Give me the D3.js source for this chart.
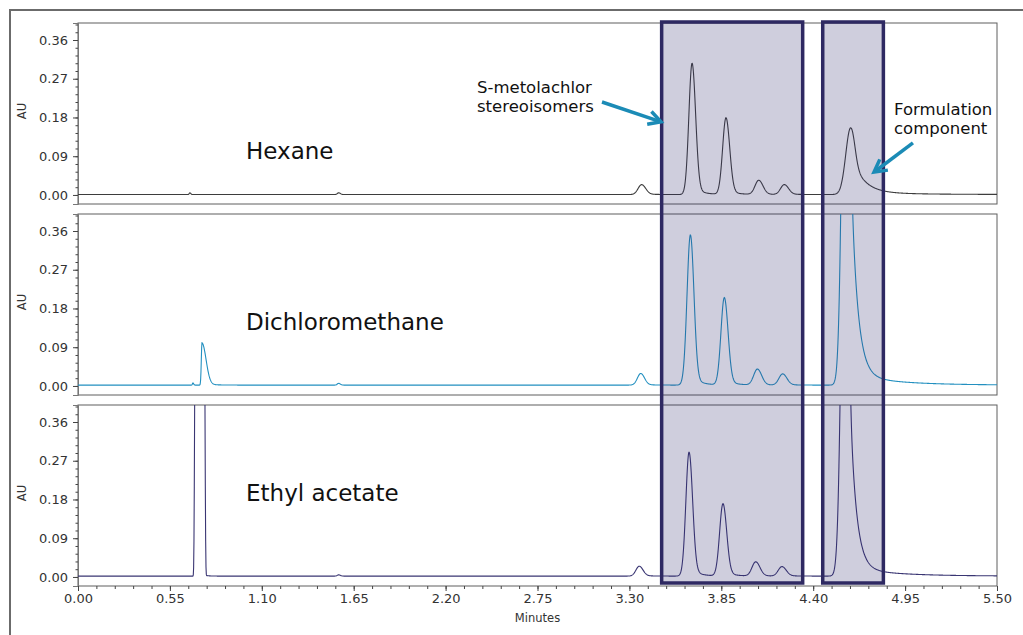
<!DOCTYPE html>
<html><head><meta charset="utf-8">
<script src="https://cdn.jsdelivr.net/npm/d3@7/dist/d3.min.js"></script>
<style>
body{margin:0;background:#fff}
svg{display:block;font-family:"DejaVu Sans",Verdana,sans-serif}
</style>
</head><body>
<svg id="chart" width="1023" height="635"></svg>
<script>
// ---------------- data ----------------
const solvents = ["Hexane", "Dichloromethane", "Ethyl acetate"];
const traceColors = ["#3d3d3d", "#2390c0", "#3a3673"];
const baselines = [0.001, 0.002, 0.002];
// peak table per solvent: [retention time (min), height (AU), sigma left, sigma right,
//                          tail amp 1, tail tau 1, tail amp 2, tail tau 2, shape exponent]
const hexanePeaks = [
  [0.670, 0.004, 0.004, 0.005],
  [1.560, 0.004, 0.008, 0.010],
  [3.373, 0.023, 0.021, 0.024, 0.002, 0.05],
  [3.675, 0.305, 0.019, 0.021, 0.020, 0.05],
  [3.878, 0.178, 0.020, 0.022, 0.012, 0.05],
  [4.074, 0.033, 0.022, 0.025, 0.002, 0.05],
  [4.227, 0.023, 0.022, 0.025, 0.002, 0.05],
  [4.624, 0.155, 0.029, 0.022, 0.090, 0.07, 0.006, 0.30]
];
const dichloromethanePeaks = [
  [0.688, 0.005, 0.003, 0.004],
  [0.742, 0.098, 0.004, 0.024, 0.004, 0.05],
  [1.560, 0.004, 0.008, 0.010],
  [3.368, 0.027, 0.020, 0.022, 0.002, 0.05],
  [3.665, 0.349, 0.020, 0.021, 0.024, 0.05],
  [3.868, 0.203, 0.020, 0.022, 0.014, 0.05],
  [4.066, 0.037, 0.022, 0.025, 0.002, 0.05],
  [4.217, 0.026, 0.022, 0.025, 0.002, 0.05],
  [4.601, 1.400, 0.023, 0.012, 0.950, 0.037, 0.028, 0.25]
];
const ethylAcetatePeaks = [
  [0.729, 1.000, 0.0286, 0.0286, 0.010, 0.02, 0, 1, 8],
  [1.560, 0.003, 0.008, 0.010],
  [3.359, 0.023, 0.020, 0.022, 0.002, 0.05],
  [3.657, 0.288, 0.019, 0.021, 0.020, 0.05],
  [3.860, 0.168, 0.020, 0.022, 0.012, 0.05],
  [4.056, 0.033, 0.022, 0.025, 0.002, 0.05],
  [4.213, 0.022, 0.022, 0.025, 0.002, 0.05],
  [4.595, 1.200, 0.0233, 0.012, 0.800, 0.036, 0.022, 0.25]
];
const peakTables = [hexanePeaks, dichloromethanePeaks, ethylAcetatePeaks];
const xTicks = [0.00, 0.55, 1.10, 1.65, 2.20, 2.75, 3.30, 3.85, 4.40, 4.95, 5.50];
const yTicks = [0.00, 0.09, 0.18, 0.27, 0.36];
const highlightRegions = [[3.493, 4.337], [4.457, 4.820]];
const annotationLines = [["S-metolachlor", "stereoisomers"], ["Formulation", "component"]];

// ---------------- layout ----------------
const svg = d3.select("#chart");
const plotL = 78, plotR = 997;
const panelTops = [23, 214, 405], panelH = 181;
const x = d3.scaleLinear().domain([0, 5.5]).range([plotL, plotR]);
const yDomain = [-0.021, 0.3995];
const yScales = panelTops.map(t => d3.scaleLinear().domain(yDomain).range([t + panelH, t]));

function peakValue(t, p) {
  const [rt, h, sl, sr, a1 = 0, tau1 = 1, a2 = 0, tau2 = 1, pw = 2] = p;
  const d = t - rt;
  if (d < 0) return h * Math.exp(-0.5 * Math.pow(-d / sl, pw));
  const g = Math.exp(-0.5 * Math.pow(d / sr, pw));
  return h * g + (1 - g) * (a1 * Math.exp(-d / tau1) + a2 * Math.exp(-d / tau2));
}
const times = d3.range(0, 5.5001, 0.002);

// outer frame
svg.append("path").attr("d", "M10,635V10H1023").attr("fill", "none")
  .attr("stroke", "#6b6b6b").attr("stroke-width", 2);

const defs = svg.append("defs");

solvents.forEach((name, i) => {
  const y = yScales[i];
  const top = panelTops[i];
  const g = svg.append("g");
  defs.append("clipPath").attr("id", "clip" + i).append("rect")
    .attr("x", plotL).attr("y", top).attr("width", plotR - plotL).attr("height", panelH);

  // panel frame
  g.append("rect").attr("x", plotL).attr("y", top).attr("width", plotR - plotL).attr("height", panelH)
    .attr("fill", "none").attr("stroke", "#5e5e5e").attr("stroke-width", 1);

  // y axis major
  const ya = g.append("g").attr("transform", `translate(${plotL},0)`)
    .call(d3.axisLeft(y).tickValues(yTicks).tickFormat(d3.format(".2f")).tickSize(5).tickPadding(5));
  ya.select(".domain").attr("stroke", "#777");
  ya.selectAll(".tick line").attr("stroke", "#444");
  ya.selectAll("text").attr("font-size", 13).attr("fill", "#333").attr("font-family", "DejaVu Sans, Verdana, sans-serif");
  // y axis minor
  const ym = g.append("g").attr("transform", `translate(${plotL},0)`)
    .call(d3.axisLeft(y).tickValues(d3.range(0, 0.397, 0.018)).tickFormat("").tickSize(2.5));
  ym.select(".domain").remove();
  ym.selectAll(".tick line").attr("stroke", "#444");

  // AU label
  g.append("text").attr("transform", `translate(26,${top + 88}) rotate(-90)`)
    .attr("text-anchor", "middle").attr("font-size", 11.5).attr("fill", "#333").text("AU");

  // trace
  const line = d3.line()
    .x(t => x(t))
    .y(t => y(baselines[i] + d3.sum(peakTables[i], p => peakValue(t, p))));
  g.append("path").attr("clip-path", `url(#clip${i})`)
    .attr("d", line(times)).attr("fill", "none")
    .attr("stroke", traceColors[i]).attr("stroke-width", 1.1);

  // solvent label
  g.append("text").attr("x", 246).attr("y", [159, 330, 501][i])
    .attr("font-size", 23).attr("fill", "#111").text(name);
});

// x axis (bottom panel)
const xBase = panelTops[2] + panelH;
const xa = svg.append("g").attr("transform", `translate(0,${xBase})`)
  .call(d3.axisBottom(x).tickValues(xTicks).tickFormat(d3.format(".2f")).tickSize(5).tickPadding(3));
xa.select(".domain").remove();
xa.selectAll(".tick line").attr("stroke", "#444");
xa.selectAll("text").attr("font-size", 13).attr("fill", "#333").attr("font-family", "DejaVu Sans, Verdana, sans-serif");
const xm = svg.append("g").attr("transform", `translate(0,${xBase})`)
  .call(d3.axisBottom(x).tickValues(d3.range(0, 5.5001, 0.11)).tickFormat("").tickSize(3));
xm.select(".domain").remove();
xm.selectAll(".tick line").attr("stroke", "#444");
svg.append("text").attr("x", (plotL + plotR) / 2).attr("y", 622).attr("text-anchor", "middle")
  .attr("font-size", 11.5).attr("fill", "#333").text("Minutes");

// highlight boxes
const boxTop = panelTops[0] - 1, boxBottom = panelTops[2] + panelH - 3;
highlightRegions.forEach(([a, b]) => {
  svg.append("rect").attr("x", x(a)).attr("y", boxTop).attr("width", x(b) - x(a)).attr("height", boxBottom - boxTop)
    .attr("fill", "#2f2a6c").attr("fill-opacity", 0.23)
    .attr("stroke", "#2e2962").attr("stroke-width", 3.5);
});

// annotations
const y0 = yScales[0];
const arrows = [
  {from: [3.136, 0.216], to: [3.489, 0.170]},
  {from: [4.997, 0.121], to: [4.764, 0.053]}
];
arrows.forEach(a => {
  const x1 = x(a.from[0]), y1 = y0(a.from[1]), x2 = x(a.to[0]), y2 = y0(a.to[1]);
  const ang = Math.atan2(y2 - y1, x2 - x1);
  const L = 14, spread = 0.5;
  const p1 = [x2 - L * Math.cos(ang - spread), y2 - L * Math.sin(ang - spread)];
  const p2 = [x2 - L * Math.cos(ang + spread), y2 - L * Math.sin(ang + spread)];
  svg.append("path").attr("d", `M${x1},${y1}L${x2 - 1.5 * Math.cos(ang)},${y2 - 1.5 * Math.sin(ang)}`)
    .attr("stroke", "#1b8bb6").attr("stroke-width", 3.5).attr("fill", "none");
  svg.append("path").attr("d", `M${p1[0]},${p1[1]}L${x2},${y2}L${p2[0]},${p2[1]}`)
    .attr("stroke", "#1b8bb6").attr("stroke-width", 3.5).attr("fill", "none")
    .attr("stroke-linejoin", "miter");
});
const annPos = [[477, 92.7], [894, 115]];
annotationLines.forEach((lines, k) => {
  const t = svg.append("text").attr("x", annPos[k][0]).attr("y", annPos[k][1])
    .attr("font-size", 16.5).attr("fill", "#111");
  lines.forEach((s, j) => t.append("tspan").attr("x", annPos[k][0]).attr("dy", j ? 19 : 0).text(s));
});
</script>
</body></html>
